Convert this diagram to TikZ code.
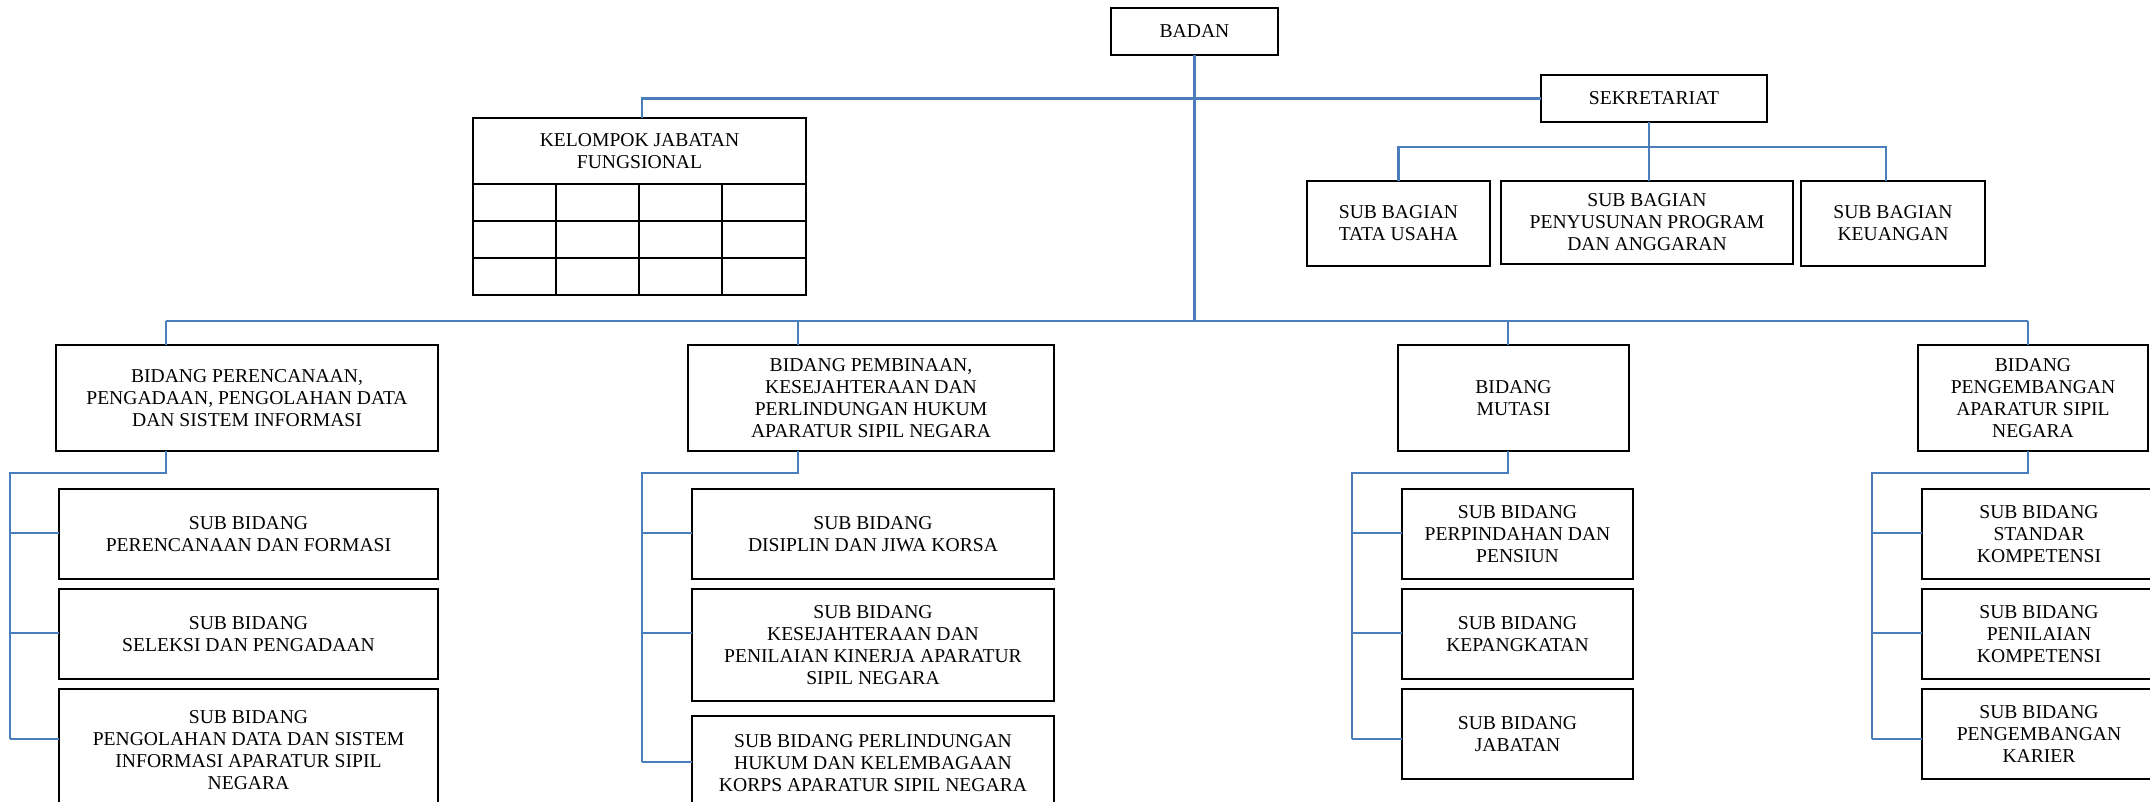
\documentclass[tikz,border=0pt]{standalone}
\usepackage{fontspec}
\setmainfont{Liberation Serif}
\definecolor{linkblue}{HTML}{4A7EBB}
\newcommand\bx[6]{\node[box,minimum width={((#4)-(#2))*0.5pt},minimum height={((#5)-(#3))*0.5pt}] (#1) at ({((#2)+(#4))/2},{((#3)+(#5))/2}) {#6};}
\begin{document}
\begin{tikzpicture}[x=0.5pt,y=-0.5pt,
  box/.style={draw=black,line width=0.9pt,inner sep=0pt,outer sep=0pt,align=center,font=\fontsize{9.8}{11}\selectfont},
  conn/.style={draw=linkblue,line width=1.1pt},
  grid/.style={draw=black,line width=0.9pt}]
\useasboundingbox (0,0) rectangle (2150,802);
% top level
\bx{badan}{1111}{8}{1278}{55}{BADAN}
\bx{sek}{1541}{75}{1767}{122}{SEKRETARIAT}
\bx{tu}{1307}{181}{1490}{266}{SUB BAGIAN\\TATA USAHA}
\bx{ppa}{1501}{181}{1793}{264}{SUB BAGIAN\\PENYUSUNAN PROGRAM\\DAN ANGGARAN}
\bx{keu}{1801}{181}{1985}{266}{SUB BAGIAN\\KEUANGAN}
% kelompok jabatan fungsional
\bx{kjf}{473}{118}{806}{295}{}
\node[font=\fontsize{9.8}{11}\selectfont,align=center] (kjft) at (639.5,151) {KELOMPOK JABATAN\\FUNGSIONAL};
\draw[grid] (473,184) -- (806,184) (473,221) -- (806,221) (473,258) -- (806,258)
  (556,184) -- (556,295) (639,184) -- (639,295) (722,184) -- (722,295);
% bidang
\bx{b1}{56}{345}{438}{451}{BIDANG PERENCANAAN,\\PENGADAAN, PENGOLAHAN DATA\\DAN SISTEM INFORMASI}
\bx{b2}{688}{345}{1054}{451}{BIDANG PEMBINAAN,\\KESEJAHTERAAN DAN\\PERLINDUNGAN HUKUM\\APARATUR SIPIL NEGARA}
\bx{b3}{1398}{345}{1629}{451}{BIDANG\\MUTASI}
\bx{b4}{1918}{345}{2148}{451}{BIDANG\\PENGEMBANGAN\\APARATUR SIPIL\\NEGARA}
% sub bidang
\bx{b11}{59}{489}{438}{579}{SUB BIDANG\\PERENCANAAN DAN FORMASI}
\bx{b12}{59}{589}{438}{679}{SUB BIDANG\\SELEKSI DAN PENGADAAN}
\bx{b13}{59}{689}{438}{812}{SUB BIDANG\\PENGOLAHAN DATA DAN SISTEM\\INFORMASI APARATUR SIPIL\\NEGARA}
\bx{b21}{692}{489}{1054}{579}{SUB BIDANG\\DISIPLIN DAN JIWA KORSA}
\bx{b22}{692}{589}{1054}{701}{SUB BIDANG\\KESEJAHTERAAN DAN\\PENILAIAN KINERJA APARATUR\\SIPIL NEGARA}
\bx{b23}{692}{716}{1054}{810}{SUB BIDANG PERLINDUNGAN\\HUKUM DAN KELEMBAGAAN\\KORPS APARATUR SIPIL NEGARA}
\bx{b31}{1402}{489}{1633}{579}{SUB BIDANG\\PERPINDAHAN DAN\\PENSIUN}
\bx{b32}{1402}{589}{1633}{679}{SUB BIDANG\\KEPANGKATAN}
\bx{b33}{1402}{689}{1633}{779}{SUB BIDANG\\JABATAN}
\bx{b41}{1922}{489}{2156}{579}{SUB BIDANG\\STANDAR\\KOMPETENSI}
\bx{b42}{1922}{589}{2156}{679}{SUB BIDANG\\PENILAIAN\\KOMPETENSI}
\bx{b43}{1922}{689}{2156}{779}{SUB BIDANG\\PENGEMBANGAN\\KARIER}
% connectors: top
\coordinate (sekx) at (1649,147);
\coordinate (keux) at (1886,147);
\coordinate (kjfx) at (642,100);
\draw[conn] (sek.west) -- (sek.west -| kjfx) -- (kjf.north -| kjfx);
\draw[conn] (sek.south -| sekx) -- (ppa.north -| sekx);
\draw[conn] (tu.north) |- (keux) -- (keu.north -| keux);
% connectors: bidang
\foreach \b/\cx/\sx/\ty in {b1/166/10/739, b2/798/642/762, b3/1508/1352/739, b4/2028/1872/739}{
  \coordinate (\b-top) at (\cx,321);
  \coordinate (\b-j) at (\cx,473);
  \coordinate (\b-s) at (\sx,473);
  \draw[conn] (\b-top) -- (\b.north -| \b-top);
  \draw[conn] (\b.south -| \b-j) -- (\b-j) -- (\b-s) -- (\sx,\ty);
  \foreach \y/\k in {533/1,633/2,\ty/3}{
    \coordinate (\b-t\k) at (\sx,\y);
    \draw[conn] (\b-t\k) -- (\b\k.west |- \b-t\k);
  }
}
\draw[conn] (b1-top) -- (b4-top);
\draw[conn] (badan.south) -- (badan.south |- b1-top);
\end{tikzpicture}
\end{document}
